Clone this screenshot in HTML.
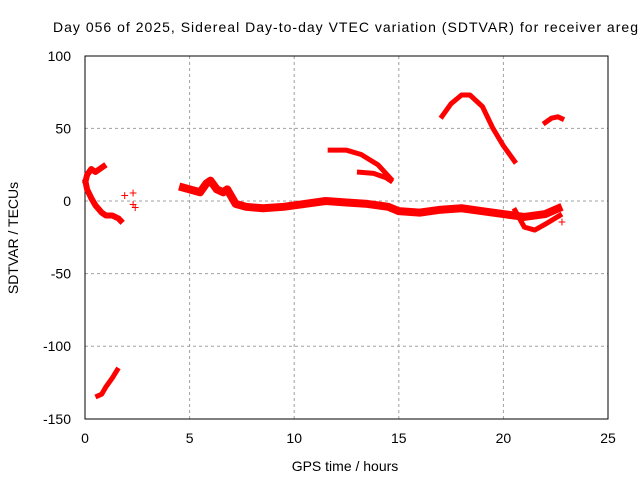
<!DOCTYPE html>
<html><head><meta charset="utf-8"><style>
body{margin:0;background:#fff}
svg{font-family:"Liberation Sans",sans-serif;font-size:14px}
</style></head><body>
<svg id="c" width="640" height="480">
<text x="53" y="32" textLength="585" lengthAdjust="spacing">Day 056 of 2025, Sidereal Day-to-day VTEC variation (SDTVAR) for receiver areg</text>
<g id="grid"></g><g id="axes"></g><g id="data"></g>
<text x="345" y="471" text-anchor="middle">GPS time / hours</text>
<text transform="translate(18,238) rotate(-90)" text-anchor="middle">SDTVAR / TECUs</text>
</svg>
<script>
const xTicks=[0,5,10,15,20,25];
const yTicks=[100,50,0,-50,-100,-150];
const armUp=[[0,12],[0.1,18],[0.3,22],[0.5,20],[0.7,22],[1.0,25]];
const armDown=[[0,15],[0.1,8],[0.3,2],[0.5,-3],[0.8,-8],[1.0,-10],[1.3,-10],[1.6,-12],[1.8,-15]];
const lowArm=[[0.5,-135],[0.8,-133],[1.0,-128],[1.3,-122],[1.6,-115]];
const mainBand=[[4.5,10],[5.0,8],[5.5,6],[5.8,12],[6.0,14],[6.3,8],[6.6,6],[6.8,8],[7.2,-2],[7.7,-4],[8.5,-5],[9.5,-4],[10.5,-2],[11.5,0],[12.5,-1],[13.5,-2],[14.5,-4],[15.0,-7],[16,-8],[17,-6],[18,-5],[19,-7],[20,-9],[21,-11],[22,-9],[22.8,-4]];
const lowBranch=[[20.5,-5],[21,-18],[21.5,-20],[22,-16],[22.8,-9]];
const arcHigh=[[11.6,35],[12.5,35],[13.2,32],[14,25],[14.7,14]];
const arcLow=[[13.0,20],[13.8,19],[14.4,16],[14.7,13]];
const peak=[[17.0,57],[17.5,67],[18.0,73],[18.4,73],[19.0,65],[19.5,50],[20.0,38],[20.6,26]];
const rightArc=[[21.9,53],[22.3,57],[22.6,58],[22.9,56]];
const scatter=[[1.9,4],[2.3,6],[2.3,-2],[2.4,-4],[22.8,-14]];
const X=h=>85+h*(608-85)/25, Y=v=>201-v*1.452;
const ns="http://www.w3.org/2000/svg";
function mk(t,a,p){const e=document.createElementNS(ns,t);for(const k in a)e.setAttribute(k,a[k]);p.appendChild(e);return e;}
const g=document.getElementById('grid'),ax=document.getElementById('axes'),d=document.getElementById('data');
xTicks.forEach(t=>{
 if(t>0&&t<25){const l=mk('line',{x1:X(t),x2:X(t),y1:56,y2:419,stroke:'#a0a0a0','stroke-dasharray':'3,3'},g);
 
 }
 const tx=mk('text',{x:X(t),y:443,'text-anchor':'middle'},ax);tx.textContent=t;
 
 
});
yTicks.forEach(t=>{
 if(t<100&&t>-150){const l=mk('line',{x1:85,x2:608,y1:Y(t),y2:Y(t),stroke:'#a0a0a0','stroke-dasharray':'3,3'},g);
 
 }
 const tx=mk('text',{x:71,y:Y(t)+5,'text-anchor':'end'},ax);tx.textContent=t;
 
 
});
const fr=mk('rect',{x:85,y:56,width:523,height:363,fill:'none',stroke:'#000'},ax);


const series=[[armUp,'arm-up',6],[armDown,'arm-down',6],[lowArm,'low-arm',5],[mainBand,'main-band',8],[lowBranch,'low-branch',5],[arcHigh,'arc-high',5],[arcLow,'arc-low',5],[peak,'peak-arc',5],[rightArc,'right-arc',5]];
series.forEach(([pts,name,w])=>{
 const p=mk('polyline',{points:pts.map(q=>X(q[0])+','+Y(q[1])).join(' '),fill:'none',stroke:'#f00','stroke-width':w,'stroke-linejoin':'round','stroke-linecap':'butt'},d);
 
 
});
scatter.forEach(q=>{
 const t=mk('text',{x:X(q[0]),y:Y(q[1])+5,fill:'#f00','text-anchor':'middle','font-size':'14'},d);t.textContent='+';
 
 
});
</script>
</body></html>
